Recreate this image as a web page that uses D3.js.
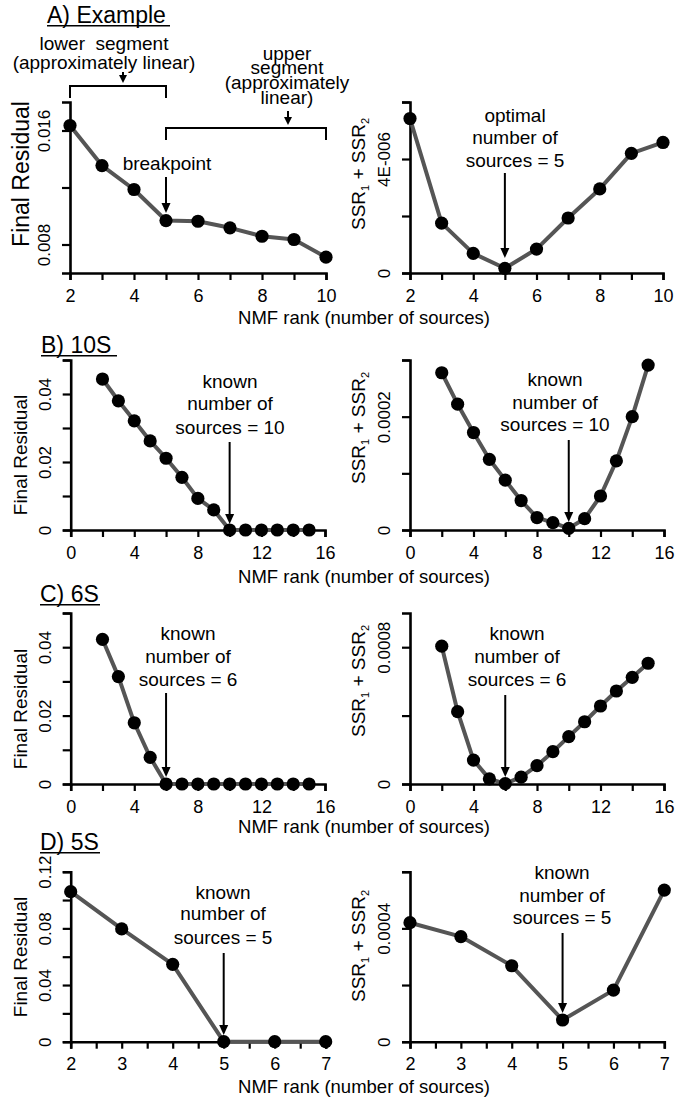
<!DOCTYPE html>
<html><head><meta charset="utf-8">
<script src="https://cdn.jsdelivr.net/npm/d3@7"></script>
<style>
body{margin:0;background:#fff}
text{font-family:"Liberation Sans",Arial,sans-serif;fill:#000}
</style>
</head><body>
<svg id="c" width="675" height="1102"></svg>
<script>
// ---------------- data ----------------
const ranksA = [2,3,4,5,6,7,8,9,10];
const residualA = [0.01635,0.01354,0.01186,0.00968,0.00963,0.00917,0.00858,0.00835,0.00711];
const ssrA = [5.42e-6,1.75e-6,0.69e-6,0.165e-6,0.84e-6,1.93e-6,2.95e-6,4.2e-6,4.58e-6];

const ranksB = [2,3,4,5,6,7,8,9,10,11,12,13,14,15];
const residualB = [0.0444,0.0380,0.0321,0.0262,0.0211,0.0155,0.0093,0.0059,0,0,0,0,0,0];
const ssrB = [2.775e-4,2.22e-4,1.72e-4,1.247e-4,0.88e-4,0.52e-4,0.22e-4,0.13e-4,0.03e-4,0.2e-4,0.6e-4,1.22e-4,2.0e-4,2.91e-4];

const ranksC = [2,3,4,5,6,7,8,9,10,11,12,13,14,15];
const residualC = [0.0423,0.0314,0.0179,0.0078,0,0,0,0,0,0,0,0,0,0];
const ssrC = [8.06e-4,4.23e-4,1.4e-4,0.3e-4,0.02e-4,0.4e-4,1.07e-4,1.89e-4,2.77e-4,3.64e-4,4.56e-4,5.44e-4,6.24e-4,7.06e-4];

const ranksD = [2,3,4,5,6,7];
const residualD = [0.1059,0.0796,0.0546,0,0,0];
const ssrD = [4.2e-4,3.71e-4,2.68e-4,0.766e-4,1.82e-4,5.35e-4];

// tick values and labels
const xTicksA = [2,3,4,5,6,7,8,9,10];
const xTickLabelsA = ["2","4","6","8","10"];
const xTicksBC = [0,2,4,6,8,10,12,14,16];
const xTickLabelsBC = ["0","4","8","12","16"];
const xTicksD = [2,2.5,3,3.5,4,4.5,5,5.5,6,6.5,7];
const xTickLabelsD = ["2","3","4","5","6","7"];

const yTicksAres = [0.008,0.012,0.016];
const yTickLabelsAres = ["0.008","0.016"];
const yTicksAssr = [0,2e-6,4e-6,6e-6];
const yTickLabelsAssr = ["0","4E-006"];
const yTicksBres = [0,0.01,0.02,0.03,0.04,0.05];
const yTickLabelsBres = ["0","0.02","0.04"];
const yTicksBssr = [0,1e-4,2e-4,3e-4];
const yTickLabelsBssr = ["0","0.0002"];
const yTicksCres = [0,0.01,0.02,0.03,0.04,0.05];
const yTickLabelsCres = ["0","0.02","0.04"];
const yTicksCssr = [0,4e-4,8e-4];
const yTickLabelsCssr = ["0","0.0008"];
const yTicksDres = [0,0.02,0.04,0.06,0.08,0.10,0.12];
const yTickLabelsDres = ["0","0.04","0.08","0.12"];
const yTicksDssr = [0,2e-4,4e-4,6e-4];
const yTickLabelsDssr = ["0","0.0004"];

const panelTitles = ["A) Example","B) 10S","C) 6S","D) 5S"];
const xAxisTitle = "NMF rank (number of sources)";
const resTitle = "Final Residual";

// ---------------- drawing ----------------
const svg = d3.select("#c");
svg.append("rect").attr("width",675).attr("height",1102).attr("fill","#fff");

const LINE = "#555";

function arrow(x, y1, y2, hw, hh){
  hw = hw||4.5; hh = hh||10;
  svg.append("line").attr("x1",x).attr("x2",x).attr("y1",y1).attr("y2",y2-hh+1)
    .attr("stroke","#000").attr("stroke-width",2);
  svg.append("path").attr("d",`M${x-hw},${y2-hh}L${x+hw},${y2-hh}L${x},${y2}Z`).attr("fill","#000");
}
// one multi-line text block (tspans), lines centred at given y positions
function lines(cx, ys, strs, fs){
  const t = svg.append("text").attr("text-anchor","middle").attr("font-size",fs||19).style("white-space","pre");
  strs.forEach((s,i)=>{
    t.append("tspan").attr("x",cx).attr("y",ys[i]).attr("dy","0.35em").text(s);
  });
}

function panel(c){
  const x = d3.scaleLinear().domain(c.xDomain).range([c.x0,c.x1]);
  const y = d3.scaleLinear().domain(c.yDomain).range([c.yBot,c.yTop]);
  const xl = c.xLabels.map(Number), yl = c.yLabels.map(Number);
  const gx = svg.append("g").attr("transform",`translate(0,${c.yBot})`)
    .call(d3.axisBottom(x).tickValues(c.xTicks).tickSizeOuter(0).tickSize(7).tickPadding(9)
      .tickFormat(d=>{const i=xl.indexOf(d);return i>=0?c.xLabels[i]:"";}));
  const gy = svg.append("g").attr("transform",`translate(${c.x0},0)`)
    .call(d3.axisLeft(y).tickValues(c.yTicks).tickSizeOuter(0).tickSize(8)
      .tickFormat(d=>{const i=yl.findIndex(v=>Math.abs(v-d)<1e-12);return i>=0?c.yLabels[i]:"";}));
  [gx,gy].forEach(g=>{
    g.select(".domain").attr("stroke","#000").attr("stroke-width",2.6);
    g.selectAll(".tick line").attr("stroke","#000").attr("stroke-width",2.2);
  });
  gx.selectAll(".tick text").attr("font-size",18).attr("font-family","Liberation Sans, Arial, sans-serif").attr("fill","#000");
  gy.selectAll(".tick text").attr("font-size",17).attr("font-family","Liberation Sans, Arial, sans-serif").attr("fill","#000")
    .attr("transform","rotate(-90)").attr("x",0).attr("y",-26).attr("dy","0.35em").attr("text-anchor","middle");
  // y-axis title
  const t = svg.append("text").attr("transform",`translate(${c.x0-c.titleOff},${c.titleY}) rotate(-90)`)
    .attr("text-anchor","middle").attr("dy","0.35em").attr("font-size",c.titleFs||19);
  if(c.ssr){
    t.append("tspan").text("SSR");
    t.append("tspan").attr("font-size",11).attr("dy",4).text("1");
    t.append("tspan").attr("dy",-4).style("white-space","pre").text(" + SSR");
    t.append("tspan").attr("font-size",11).attr("dy",4).text("2");
  } else t.text(resTitle);
  // series
  const pts = c.ranks.map((r,i)=>[r,c.values[i]]);
  svg.append("path").datum(pts).attr("fill","none").attr("stroke",LINE).attr("stroke-width",4)
    .attr("stroke-linejoin","round")
    .attr("d",d3.line().x(d=>x(d[0])).y(d=>y(d[1])));
  svg.append("g").selectAll("circle").data(pts).join("circle")
    .attr("cx",d=>x(d[0])).attr("cy",d=>y(d[1])).attr("r",6.6).attr("fill","#000");
  // annotation
  if(c.ann){
    lines(c.ann.cx, c.ann.ys, c.ann.text);
    arrow(x(c.ann.at), c.ann.y1, c.ann.y2);
  }
  return x;
}
function title(txt, x0, base, ux1){
  svg.append("text").attr("x",x0).attr("y",base).attr("font-size",23).text(txt);
  svg.append("line").attr("x1",x0).attr("x2",ux1).attr("y1",base+2.8).attr("y2",base+2.8)
    .attr("stroke","#000").attr("stroke-width",1.6);
}
function xTitle(y){
  svg.append("text").attr("x",364).attr("y",y).attr("dy","0.35em").attr("text-anchor","middle")
    .attr("font-size",18.5).text(xAxisTitle);
}

// ---- Row A ----
title(panelTitles[0],47,23,170);
const xA = panel({x0:70,x1:326,yTop:102,yBot:273,xDomain:[2,10],yDomain:[0.006,0.018],
  xTicks:xTicksA,xLabels:xTickLabelsA,yTicks:yTicksAres,yLabels:yTickLabelsAres,
  ranks:ranksA,values:residualA,titleOff:49,titleY:174,titleFs:23,
  ann:{cx:167,ys:[163],text:["breakpoint"],at:5,y1:177,y2:213}});
panel({x0:410,x1:663,yTop:102,yBot:273,xDomain:[2,10],yDomain:[0,6e-6],
  xTicks:xTicksA,xLabels:xTickLabelsA,yTicks:yTicksAssr,yLabels:yTickLabelsAssr,
  ranks:ranksA,values:ssrA,ssr:true,titleOff:52,titleY:174,
  ann:{cx:515,ys:[115,137,160],text:["optimal","number of","sources = 5"],at:5,y1:173,y2:258}});
// brackets
svg.append("path").attr("d",`M${xA(2)},98V86H${xA(5)}V98`).attr("fill","none").attr("stroke","#000").attr("stroke-width",2);
svg.append("path").attr("d",`M${xA(5)},140V128H${xA(10)}V140`).attr("fill","none").attr("stroke","#000").attr("stroke-width",2);
lines(104,[43,62],["lower  segment","(approximately linear)"]);
lines(287,[53,67,82,97],["upper","segment","(approximately","linear)"]);
arrow(123,72,83,4,8);
arrow(288,111,125,4,8);
xTitle(318);

// ---- Row B ----
title(panelTitles[1],41,353,117);
panel({x0:70.7,x1:325,yTop:360,yBot:530,xDomain:[0,16],yDomain:[0,0.05],
  xTicks:xTicksBC,xLabels:xTickLabelsBC,yTicks:yTicksBres,yLabels:yTickLabelsBres,
  ranks:ranksB,values:residualB,titleOff:50,titleY:455,
  ann:{cx:230,ys:[381,403,427],text:["known","number of","sources = 10"],at:10,y1:442,y2:524}});
panel({x0:410,x1:664,yTop:360,yBot:530,xDomain:[0,16],yDomain:[0,3e-4],
  xTicks:xTicksBC,xLabels:xTickLabelsBC,yTicks:yTicksBssr,yLabels:yTickLabelsBssr,
  ranks:ranksB,values:ssrB,ssr:true,titleOff:52,titleY:428,
  ann:{cx:555,ys:[379,402,424],text:["known","number of","sources = 10"],at:10,y1:440,y2:522}});
xTitle(577);

// ---- Row C ----
title(panelTitles[2],40,602,100);
panel({x0:70.7,x1:325,yTop:613,yBot:784,xDomain:[0,16],yDomain:[0,0.05],
  xTicks:xTicksBC,xLabels:xTickLabelsBC,yTicks:yTicksCres,yLabels:yTickLabelsCres,
  ranks:ranksC,values:residualC,titleOff:50,titleY:709,
  ann:{cx:188,ys:[633,656,679],text:["known","number of","sources = 6"],at:6,y1:693,y2:777}});
panel({x0:410,x1:664,yTop:613,yBot:784,xDomain:[0,16],yDomain:[0,0.001],
  xTicks:xTicksBC,xLabels:xTickLabelsBC,yTicks:yTicksCssr,yLabels:yTickLabelsCssr,
  ranks:ranksC,values:ssrC,ssr:true,titleOff:52,titleY:681,
  ann:{cx:517,ys:[633,656,679],text:["known","number of","sources = 6"],at:6,y1:695,y2:777}});
xTitle(827);

// ---- Row D ----
title(panelTitles[3],40,850,100);
panel({x0:70.7,x1:325.7,yTop:871.7,yBot:1041.7,xDomain:[2,7],yDomain:[0,0.12],
  xTicks:xTicksD,xLabels:xTickLabelsD,yTicks:yTicksDres,yLabels:yTickLabelsDres,
  ranks:ranksD,values:residualD,titleOff:50,titleY:957,
  ann:{cx:223,ys:[892,913,937],text:["known","number of","sources = 5"],at:5,y1:953,y2:1035}});
panel({x0:410,x1:664.3,yTop:871.7,yBot:1041.7,xDomain:[2,7],yDomain:[0,6e-4],
  xTicks:xTicksD,xLabels:xTickLabelsD,yTicks:yTicksDssr,yLabels:yTickLabelsDssr,
  ranks:ranksD,values:ssrD,ssr:true,titleOff:52,titleY:946,
  ann:{cx:562,ys:[872,895,917],text:["known","number of","sources = 5"],at:5,y1:933,y2:1013}});
xTitle(1087);
</script>
</body></html>
